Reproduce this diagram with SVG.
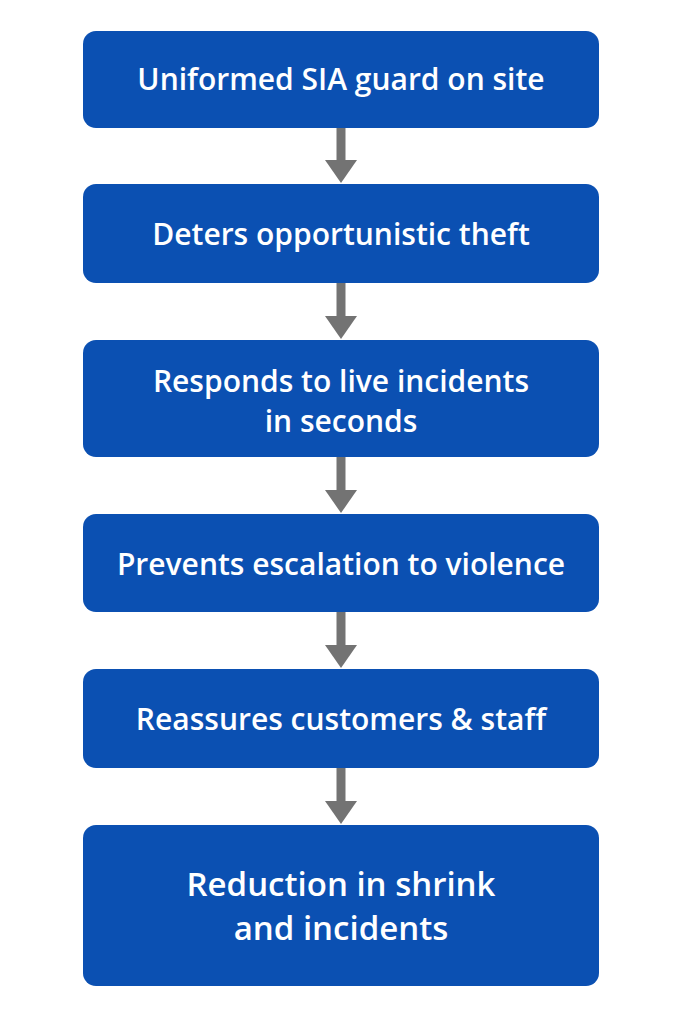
<svg xmlns="http://www.w3.org/2000/svg" width="683" height="1024" viewBox="0 0 683 1024">
<style>
.b{fill:#0B50B2}
.t{fill:#fff;font-family:"Open Sans","Liberation Sans",sans-serif;font-weight:600;font-size:30px;text-anchor:middle}
.s{stroke:#737373;stroke-width:9}
.h{fill:#737373}
</style>
<rect width="683" height="1024" fill="#fff"/>
<g id="connectors">
<line class="s" x1="341" y1="128" x2="341" y2="162"/><polygon class="h" points="325,160 357,160 341,183"/>
<line class="s" x1="341" y1="283" x2="341" y2="318"/><polygon class="h" points="325,316 357,316 341,339"/>
<line class="s" x1="341" y1="457" x2="341" y2="492"/><polygon class="h" points="325,490 357,490 341,513"/>
<line class="s" x1="341" y1="612" x2="341" y2="647"/><polygon class="h" points="325,645 357,645 341,668"/>
<line class="s" x1="341" y1="768" x2="341" y2="803"/><polygon class="h" points="325,801 357,801 341,824"/>
</g>
<g id="n1"><rect class="b" x="83" y="31" width="516" height="97" rx="13"/><text class="t" x="341" y="90">Uniformed SIA guard on site</text></g>
<g id="n2"><rect class="b" x="83" y="184" width="516" height="99" rx="13"/><text class="t" x="341" y="245">Deters opportunistic theft</text></g>
<g id="n3"><rect class="b" x="83" y="340" width="516" height="117" rx="13"/><text class="t" x="341" y="392">Responds to live incidents</text><text class="t" x="341" y="432">in seconds</text></g>
<g id="n4"><rect class="b" x="83" y="514" width="516" height="98" rx="13"/><text class="t" x="341" y="575">Prevents escalation to violence</text></g>
<g id="n5"><rect class="b" x="83" y="669" width="516" height="99" rx="13"/><text class="t" x="341" y="730">Reassures customers &amp; staff</text></g>
<g id="n6"><rect class="b" x="83" y="825" width="516" height="161" rx="13"/><text class="t" x="341" y="896" style="font-size:33px">Reduction in shrink</text><text class="t" x="341" y="940" style="font-size:33px">and incidents</text></g>
</svg>
